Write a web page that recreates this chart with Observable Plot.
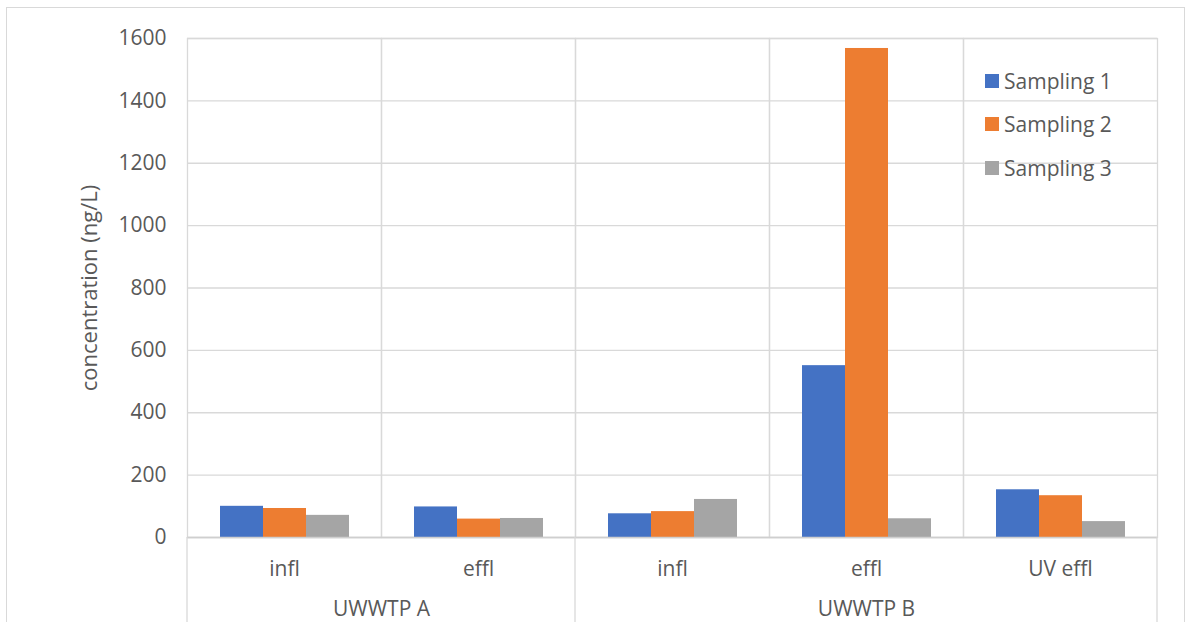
<!DOCTYPE html>
<html><head><meta charset="utf-8">
<script src="https://cdn.jsdelivr.net/npm/d3@7"></script>
<script src="https://cdn.jsdelivr.net/npm/@observablehq/plot@0.6"></script>
<style>
body{margin:0;background:#fff;}
#wrap{position:relative;width:1192px;height:622px;overflow:hidden;font-family:"Open Sans",sans-serif;background:#fff;}
#border{position:absolute;left:6px;top:7px;width:1179px;height:700px;border:1px solid #d9d9d9;box-sizing:border-box;}
#chart{position:absolute;left:0;top:0;}
#legend{position:absolute;left:985px;top:59px;}
.item{display:flex;align-items:center;height:43.5px;font-size:21px;color:#595959;white-space:nowrap;}
.sw{width:14px;height:14px;margin-right:5px;flex:none;}
</style></head><body><div id="wrap"><div id="border"></div><div id="chart"></div><div id="legend"></div></div>
<script>
const groups = ["UWWTP A","UWWTP A","UWWTP B","UWWTP B","UWWTP B"];
const sites = ["infl","effl","infl","effl","UV effl"];
const series = ["Sampling 1","Sampling 2","Sampling 3"];
const sampling1 = [100, 98, 76, 551, 153];
const sampling2 = [93, 59, 83, 1568, 134];
const sampling3 = [71, 61, 122, 60, 51];
const colors = ["#4472C4","#ED7D31","#A5A5A5"];
const yTicks = [0,200,400,600,800,1000,1200,1400,1600];
const yLabel = "concentration (ng/L)";

const keys = sites.map((s,i)=>groups[i]+"|"+s);
const values = [sampling1, sampling2, sampling3];
const data = [];
keys.forEach((k,i)=>series.forEach((s,j)=>data.push({key:k, series:s, value:values[j][i]})));

// group label placement
const groupNames = [...new Set(groups)];
const groupLabels = groupNames.map(g=>{
  const idx = groups.map((x,i)=>x===g?i:-1).filter(i=>i>=0);
  const n = idx.length, start = idx[0];
  if (n % 2) return {name:g, key:keys[start+(n-1)/2], anchor:"bottom"};
  return {name:g, key:keys[start+n/2-1], anchor:"bottom-right"};
});

const grid = "#d9d9d9";
const plot = Plot.plot({
  width:1192, height:622,
  marginLeft:186, marginRight:34, marginTop:38, marginBottom:85,
  style:{fontFamily:'"Open Sans", sans-serif', fontSize:"21px", color:"#595959", background:"transparent"},
  fx:{domain:keys, padding:0, axis:null},
  x:{domain:series, paddingInner:0, paddingOuter:0.745, axis:null},
  y:{domain:[0,1600], axis:null},
  color:{domain:series, range:colors},
  marks:[
    Plot.gridY(yTicks, {stroke:grid, strokeOpacity:1, strokeWidth:1.3}),
    Plot.frame({stroke:grid, strokeWidth:1.3}),
    Plot.barY(data, {fx:"key", x:"series", y:"value", fill:"series"}),
    Plot.ruleY([0], {stroke:"#cfcfcf", strokeWidth:1.5}),
    Plot.axisY(yTicks, {tickSize:0, tickPadding:21, tickFormat:d=>String(d), label:yLabel, labelArrow:"none", labelAnchor:"center", labelOffset:106, fontSize:21}),
    Plot.axisFx({anchor:"bottom", tickFormat:k=>k.split("|")[1], tickSize:0, tickPadding:24, label:null, fontSize:21}),
    ...groupLabels.map(g=>Plot.text([g.name], {fx:[g.key], text:d=>d, frameAnchor:g.anchor, textAnchor:"middle", lineAnchor:"bottom", dy:78, fontSize:21, fill:"#595959"}))
  ]
});
document.getElementById("chart").appendChild(plot);
d3.select(plot).selectAll("[aria-label='y-axis label'] text, [aria-label='y-axis label']").attr("font-size", 22);

// group separators below the axis
const fx = plot.scale("fx");
const bw = fx.bandwidth;
const y0 = plot.scale("y").apply(0);
const edges = [];
groupNames.forEach(g=>{
  const idx = groups.map((x,i)=>x===g?i:-1).filter(i=>i>=0);
  edges.push(fx.apply(keys[idx[0]]));
});
edges.push(fx.apply(keys[keys.length-1]) + bw);
d3.select(plot).append("g").selectAll("line").data(edges).join("line")
  .attr("x1",d=>d).attr("x2",d=>d).attr("y1",y0).attr("y2",622)
  .attr("stroke",grid).attr("stroke-width",1.3);

// legend
const leg = d3.select("#legend");
series.forEach((s,i)=>{
  const it = leg.append("div").attr("class","item");
  it.append("div").attr("class","sw").style("background",colors[i]);
  it.append("span").text(s);
});
</script></body></html>
